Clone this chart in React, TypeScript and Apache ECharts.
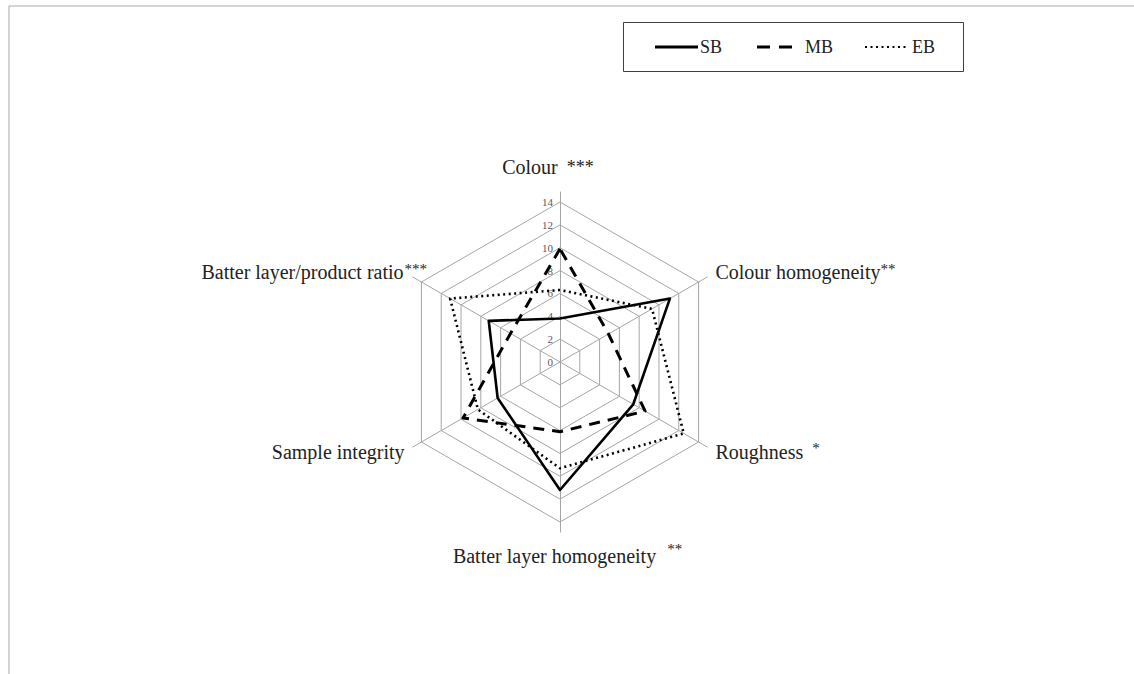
import React, { useEffect, useRef } from 'react';
import * as echarts from 'echarts';

// Attributes listed clockwise from the top, as in the reference
const attributes = [
  'Colour',
  'Colour homogeneity',
  'Roughness',
  'Batter layer homogeneity',
  'Sample integrity',
  'Batter layer/product ratio',
];
const significance = ['***', '**', '*', '**', '', '***'];
const seriesNames = ['SB', 'MB', 'EB'];
const sbValues = [3.8, 11.1, 7.4, 11.2, 6.3, 7.2];
const mbValues = [9.9, 4.9, 8.6, 6.1, 9.8, 5.0];
const ebValues = [6.3, 9.3, 12.5, 9.3, 8.3, 11.1];
const scaleMin = 0;
const scaleMax = 14;
const scaleSplits = 7; // ticks 0, 2, 4, ... 14

// ECharts lays indicators out counter-clockwise; the reference runs clockwise
const ccwOrder = [0, 5, 4, 3, 2, 1];
const reorder = (arr: number[]) => ccwOrder.map((i) => arr[i]);

const FONT = '"Liberation Serif", "Times New Roman", serif';
const GRID = '#a6a6a6';
const INK = '#222';

function nameLabel(name: string): string {
  const i = attributes.indexOf(name);
  const sig = significance[i];
  switch (i) {
    case 0:
      return `{nt|${name}}{at|  ${sig}}`;
    case 1:
      return `{n|${name}}{s|${sig}}`;
    case 2:
      return `{n|${name}}{sr|${sig}}`;
    case 3:
      return `{nb|${name}}{sb|${sig}}`;
    case 5:
      return `{nl|${name}}{sz|${sig}}`;
    default:
      return `{n|${name}}`;
  }
}

const sup = { fontSize: 15, lineHeight: 4, fontFamily: FONT, color: INK, verticalAlign: 'top' };
const rich = {
  n: { fontSize: 20, lineHeight: 22, fontFamily: FONT, color: INK },
  nl: { fontSize: 20, lineHeight: 22, fontFamily: FONT, color: INK, align: 'left' },
  nt: { fontSize: 20, lineHeight: 32, fontFamily: FONT, color: INK },
  at: { fontSize: 18, lineHeight: 32, fontFamily: FONT, color: INK, padding: [0, 24, 0, 0] },
  nb: { fontSize: 20, lineHeight: 28, fontFamily: FONT, color: INK, align: 'left', padding: [0, 6, 0, 0] },
  s: { ...sup },
  sr: { ...sup, padding: [0, 0, 0, 9] },
  sb: { ...sup, align: 'left', width: 0, padding: [0, 0, 0, 5] },
  sz: { ...sup, align: 'left', width: 0, padding: [0, 0, 0, 1] },
};

const lineStyles = [
  { color: '#000', width: 2.6, type: 'solid' },
  { color: '#000', width: 3, type: [11, 8] },
  { color: '#000', width: 2.6, type: [2, 3.5] },
];
const valueSets = [sbValues, mbValues, ebValues];

export default function App() {
  const ref = useRef<HTMLDivElement>(null);

  useEffect(() => {
    document.body.style.margin = '0';
    if (!ref.current) return;
    const chart = echarts.init(ref.current, null, { renderer: 'svg' });

    const center = [560, 362];
    const indicator = ccwOrder.map((i, k) => ({
      name: attributes[i],
      min: scaleMin,
      max: scaleMax,
      ...(k === 0 ? { axisLabel: { show: true } } : {}),
    }));

    const option = {
      animation: false,
      backgroundColor: '#ffffff',
      radar: [
        {
          center,
          radius: 160,
          startAngle: 90,
          shape: 'polygon',
          splitNumber: scaleSplits,
          indicator,
          nameGap: 19.5,
          axisName: {
            formatter: (name: string) => nameLabel(name),
            rich,
            color: INK,
            fontFamily: FONT,
            fontSize: 20,
          },
          axisLine: { show: false },
          axisTick: { show: false },
          splitLine: { lineStyle: { color: GRID, width: 1 } },
          splitArea: { show: false },
          axisLabel: { show: false, color: '#595959', fontSize: 11, fontFamily: FONT, margin: 7 },
        },
        {
          center,
          radius: 170,
          startAngle: 90,
          shape: 'polygon',
          splitNumber: 1,
          indicator: ccwOrder.map((i) => ({ name: attributes[i], min: scaleMin, max: scaleMax })),
          axisName: { show: false },
          axisLine: { show: true, lineStyle: { color: GRID, width: 1 } },
          axisTick: { show: false },
          axisLabel: { show: false },
          splitLine: { show: false },
          splitArea: { show: false },
          silent: true,
        },
      ],
      series: [
        {
          type: 'radar',
          radarIndex: 0,
          symbol: 'none',
          silent: true,
          data: seriesNames.map((name, k) => ({
            name,
            value: reorder(valueSets[k]),
            lineStyle: { ...lineStyles[k], cap: 'butt' },
            areaStyle: { opacity: 0 },
          })),
        },
      ],
      graphic: [
        // outer frame (top and left edges visible)
        { type: 'line', shape: { x1: 9, y1: 6, x2: 1134, y2: 6 }, style: { stroke: '#c4c4c4', lineWidth: 1.5 }, silent: true },
        { type: 'line', shape: { x1: 9, y1: 6, x2: 9, y2: 674 }, style: { stroke: '#c4c4c4', lineWidth: 1.5 }, silent: true },
        // legend box
        {
          type: 'rect',
          shape: { x: 623.5, y: 22.5, width: 340, height: 49 },
          style: { fill: '#fff', stroke: '#404040', lineWidth: 1 },
          silent: true,
        },
        { type: 'line', shape: { x1: 655, y1: 47, x2: 698, y2: 47 }, style: { stroke: '#000', lineWidth: 3 }, silent: true },
        { type: 'text', x: 700, y: 47, style: { text: seriesNames[0], font: `18px ${FONT}`, fill: INK, verticalAlign: 'middle', align: 'left' }, silent: true },
        { type: 'line', shape: { x1: 757, y1: 47, x2: 792, y2: 47 }, style: { stroke: '#000', lineWidth: 3, lineDash: [13, 9] }, silent: true },
        { type: 'text', x: 805, y: 47, style: { text: seriesNames[1], font: `18px ${FONT}`, fill: INK, verticalAlign: 'middle', align: 'left' }, silent: true },
        { type: 'line', shape: { x1: 865, y1: 47, x2: 906, y2: 47 }, style: { stroke: '#000', lineWidth: 2, lineDash: [2, 3.5] }, silent: true },
        { type: 'text', x: 912, y: 47, style: { text: seriesNames[2], font: `18px ${FONT}`, fill: INK, verticalAlign: 'middle', align: 'left' }, silent: true },
      ],
    };

    chart.setOption(option as any);
    return () => chart.dispose();
  }, []);

  return <div ref={ref} style={{ width: 1134, height: 674 }} />;
}
